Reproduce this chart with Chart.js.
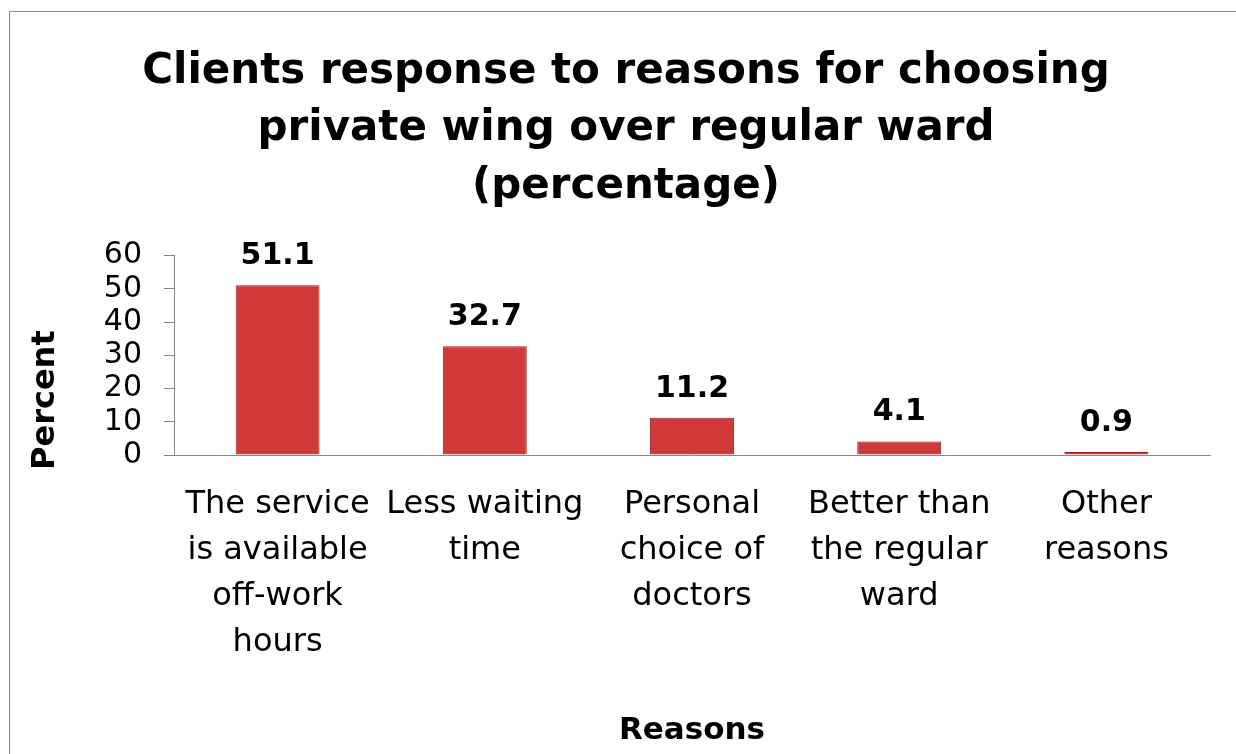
<!DOCTYPE html>
<html>
<head>
<meta charset="utf-8">
<script src="https://cdn.jsdelivr.net/npm/chart.js@4.4.0/dist/chart.umd.min.js"></script>
<style>
  html, body { margin: 0; padding: 0; background: #fff; overflow: hidden; }
  #frame {
    position: absolute; left: 9px; top: 11px;
    width: 1260px; height: 780px;
    border: 1px solid #8c8c8c; box-sizing: border-box;
  }
  #wrap { position: absolute; left: 0; top: 0; width: 1226px; height: 742px; }
</style>
</head>
<body>
<div id="frame"><div id="wrap"><canvas id="chart"></canvas></div></div>
<script>
const reasons = [
  ['The service', 'is available', 'off-work', 'hours'],
  ['Less waiting', 'time'],
  ['Personal', 'choice of', 'doctors'],
  ['Better than', 'the regular', 'ward'],
  ['Other', 'reasons']
];
const percents = [51.1, 32.7, 11.2, 4.1, 0.9];
const yTicks = [0, 10, 20, 30, 40, 50, 60];

const FONT = '"DejaVu Sans", sans-serif';

// value labels over each bar + the rotated "Percent" axis title
const extraText = {
  id: 'extraText',
  afterDatasetsDraw(chart) {
    const ctx = chart.ctx;
    const meta = chart.getDatasetMeta(0);
    ctx.save();
    ctx.font = 'bold 30px ' + FONT;
    ctx.fillStyle = '#000';
    ctx.textAlign = 'center';
    ctx.textBaseline = 'alphabetic';
    meta.data.forEach((bar, i) => {
      ctx.fillText(percents[i].toFixed(1), bar.x, bar.y - 21);
    });

    const area = chart.chartArea;
    ctx.translate(chart.scales.y.left + 4, area.bottom + 15);
    ctx.rotate(-Math.PI / 2);
    ctx.font = 'bold 32px ' + FONT;
    ctx.textAlign = 'left';
    ctx.textBaseline = 'middle';
    ctx.fillText('Percent', 0, 0);
    ctx.restore();
  }
};

// red bars, darker at the sides
function barFill(context) {
  const el = context.element;
  const c = context.chart.ctx;
  if (!el || !el.width) return '#d13838';
  const g = c.createLinearGradient(el.x - el.width / 2, 0, el.x + el.width / 2, 0);
  g.addColorStop(0, '#a82328');
  g.addColorStop(0.12, '#cf3535');
  g.addColorStop(0.5, '#db3b3a');
  g.addColorStop(0.88, '#cf3535');
  g.addColorStop(1, '#a52227');
  return g;
}

new Chart(document.getElementById('chart'), {
  type: 'bar',
  plugins: [extraText],
  data: {
    labels: reasons,
    datasets: [{
      data: percents,
      backgroundColor: barFill,
      borderColor: '#951f23',
      borderWidth: 1,
      categoryPercentage: 1,
      barPercentage: 0.405
    }]
  },
  options: {
    responsive: true,
    maintainAspectRatio: false,
    animation: false,
    layout: { padding: { left: 32, right: 26, top: 0, bottom: 0 } },
    plugins: {
      legend: { display: false },
      tooltip: { enabled: false },
      title: {
        display: true,
        text: ['Clients response to reasons for choosing', 'private wing over regular ward', '(percentage)'],
        color: '#000',
        font: { family: FONT, size: 42, weight: 'bold', lineHeight: 1.37 },
        padding: { top: 31, bottom: 40 }
      }
    },
    scales: {
      x: {
        grid: { display: false },
        border: { display: true, color: '#888' },
        ticks: {
          color: '#000',
          font: { family: FONT, size: 32, lineHeight: 1.4375 },
          maxRotation: 0,
          autoSkip: false,
          padding: 19
        },
        title: {
          display: true,
          text: 'Reasons',
          color: '#000',
          font: { family: FONT, size: 31, weight: 'bold' },
          padding: { top: 46, bottom: 4 }
        },
        afterFit(scale) { scale.height = 299; }
      },
      y: {
        min: 0,
        max: 60,
        afterBuildTicks(scale) { scale.ticks = yTicks.map(v => ({ value: v })); },
        afterFit(scale) { scale.width = 132; },
        grid: { drawOnChartArea: false, tickLength: 10, color: '#888' },
        border: { color: '#888' },
        ticks: {
          color: '#000',
          font: { family: FONT, size: 30, lineHeight: 1 },
          padding: 22
        }
      }
    }
  }
});
</script>
</body>
</html>
